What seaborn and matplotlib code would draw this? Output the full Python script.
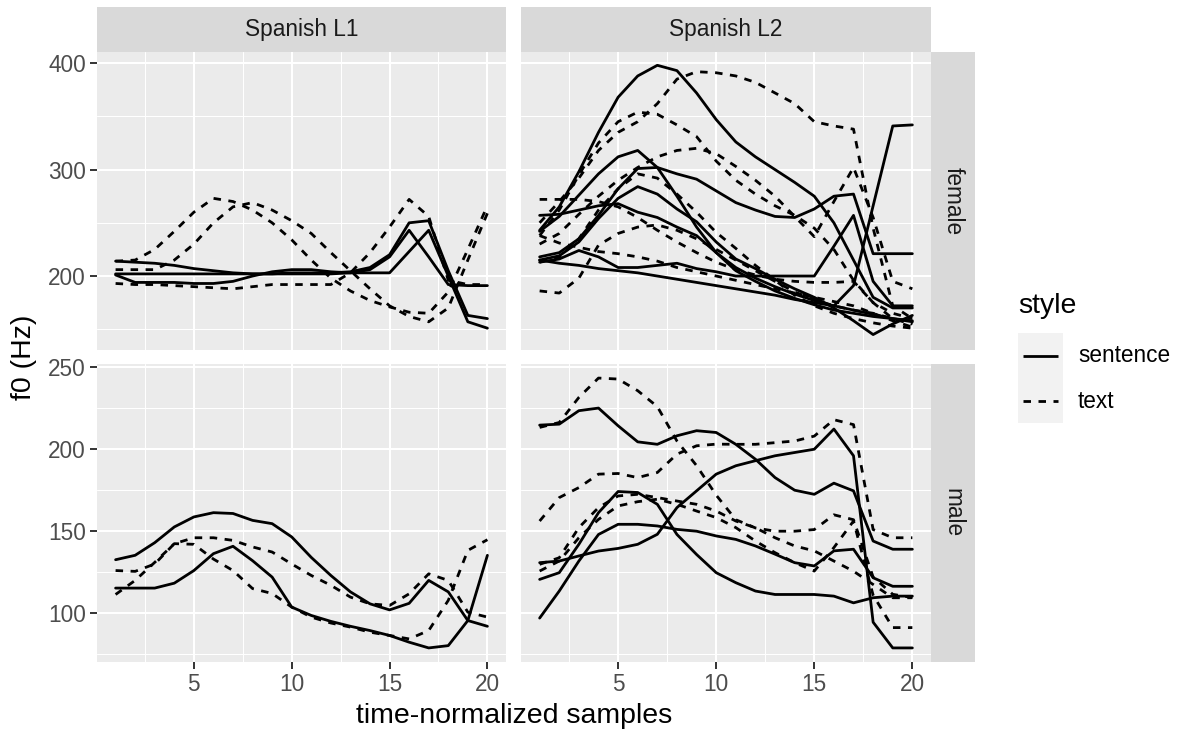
import matplotlib
matplotlib.use("Agg")
import matplotlib.pyplot as plt
import seaborn as sns
import pandas as pd

sns.set_theme(style="darkgrid")
plt.rcParams["font.family"] = ["Liberation Sans", "DejaVu Sans"]

# ---------------- data ----------------
samples = list(range(1, 21))
groups = ["Spanish L1", "Spanish L2"]
sexes = ["female", "male"]
styles = ["sentence", "text"]

l1_female_sentence = [
    [214, 213, 212, 210, 207, 205, 203, 202, 202, 203, 203, 203, 204, 208, 220, 250, 252, 205, 163, 160],
    [202, 202, 202, 202, 202, 202, 202, 202, 202, 202, 202, 202, 203, 203, 203, 223, 243, 200, 157, 151],
    [201, 194, 194, 194, 193, 193, 195, 200, 204, 206, 206, 204, 203, 206, 218, 243, 218, 192, 191, 191],
]
l1_female_text = [
    [214, 215, 225, 242, 260, 273, 270, 262, 250, 234, 215, 198, 186, 177, 171, 166, 165, 185, 225, 266],
    [206, 206, 206, 215, 230, 250, 265, 269, 262, 252, 240, 222, 205, 188, 172, 162, 157, 170, 215, 259],
    [193, 192, 192, 191, 190, 189, 188, 190, 192, 192, 192, 192, 203, 222, 246, 272, 256, 196, 192, 192],
]
l2_female_sentence = [
    [243, 265, 298, 335, 368, 388, 398, 393, 372, 347, 326, 312, 300, 288, 275, 250, 215, 180, 170, 170],
    [242, 256, 276, 296, 312, 318, 302, 275, 246, 222, 205, 195, 186, 179, 173, 168, 165, 162, 160, 158],
    [218, 222, 235, 257, 282, 301, 302, 296, 291, 280, 269, 262, 256, 255, 263, 275, 277, 221, 221, 221],
    [215, 219, 232, 254, 273, 284, 277, 263, 251, 232, 216, 207, 197, 188, 180, 170, 158, 145, 155, 163],
    [257, 258, 262, 266, 268, 260, 255, 246, 238, 222, 208, 198, 190, 183, 177, 172, 191, 266, 341, 342],
    [213, 216, 224, 218, 208, 208, 210, 212, 207, 204, 200, 200, 200, 200, 200, 228, 257, 195, 172, 172],
    [215, 212, 210, 207, 205, 203, 200, 197, 194, 191, 188, 185, 182, 178, 175, 172, 168, 164, 160, 157],
]
l2_female_text = [
    [250, 270, 292, 318, 335, 345, 362, 385, 392, 391, 388, 382, 372, 362, 345, 341, 338, 245, 172, 160],
    [238, 262, 295, 325, 345, 354, 352, 342, 331, 308, 290, 277, 266, 257, 245, 225, 196, 175, 165, 160],
    [230, 240, 258, 275, 290, 302, 312, 318, 320, 315, 303, 290, 275, 256, 237, 270, 302, 255, 195, 188],
    [213, 218, 235, 262, 282, 296, 292, 277, 260, 241, 226, 210, 196, 182, 172, 165, 160, 156, 153, 151],
    [186, 184, 198, 229, 240, 246, 248, 243, 235, 225, 215, 205, 195, 185, 178, 172, 168, 165, 160, 155],
    [272, 272, 272, 270, 265, 255, 243, 232, 222, 213, 206, 201, 197, 195, 194, 194, 195, 175, 160, 155],
    [238, 231, 227, 223, 221, 218, 214, 208, 204, 200, 196, 192, 188, 184, 180, 176, 172, 165, 158, 152],
]
l1_male_sentence = [
    [132.6, 135.3, 143, 152.6, 158.7, 161.3, 160.8, 156.6, 154.6, 146.5, 134, 123, 113, 105.7, 102, 106, 120, 113, 95.5, 92],
    [115.3, 115.3, 115.3, 118.3, 126, 136.3, 140.8, 132, 122, 103.7, 98.6, 95, 92, 89.4, 86.4, 82.3, 78.8, 80.2, 95.5, 135.3],
]
l1_male_text = [
    [126, 125.5, 130, 142.4, 146, 146, 144.4, 140.4, 137.3, 130, 123, 117, 109.8, 105.7, 104.7, 111.8, 124, 120, 100.6, 97.6],
    [111.4, 120, 131, 142.4, 142, 133, 126, 115, 112, 103.7, 97.6, 94, 91.5, 88.4, 86.4, 84.3, 89.4, 107.8, 138.3, 144.8],
]
l2_male_sentence = [
    [214.7, 215.3, 223.5, 225.1, 214.3, 204.5, 203, 208.2, 211.3, 210.2, 203, 193.9, 182.7, 175, 172.5, 179.3, 174.6, 144, 139, 139],
    [130.8, 131.8, 134.9, 137.9, 139.5, 142, 148.1, 164.4, 174.6, 184.8, 189.9, 193, 196, 198, 200, 212.3, 196, 94.5, 78.8, 78.8],
    [120.6, 124.7, 142, 161.3, 174.2, 173.6, 166.4, 148, 135.8, 124.7, 118.6, 113.5, 111.4, 111.4, 111.4, 110.4, 106.3, 109.4, 110.4, 110.4],
    [97, 113.5, 131.8, 148, 154.2, 154.2, 153.2, 151.1, 150, 147.1, 145, 141, 136, 130.8, 128.8, 138, 139, 121.6, 116.4, 116.4],
]
l2_male_text = [
    [213.3, 216.3, 231.6, 243.4, 242.8, 235.7, 226, 205, 190, 172, 157, 152, 150, 150, 151, 160, 157, 122, 111.5, 109.5],
    [156.2, 170.5, 176.6, 184.8, 185.2, 182.7, 185.8, 197, 202.1, 203.1, 203, 203, 204, 205, 208, 218, 215, 151, 146, 146],
    [129.8, 133.8, 152.2, 164.4, 171.5, 172.5, 170.5, 168.4, 166.4, 162.3, 156.2, 152.1, 146, 141, 138, 131.8, 125.6, 117.5, 109.4, 109.4],
    [125.7, 131.8, 146, 157.2, 165.4, 168, 169.5, 166.4, 162.3, 158.3, 152.2, 144, 136.9, 130.8, 125.7, 140, 156.2, 111, 91.2, 91.2],
]

panels = {
    ("Spanish L1", "female"): (l1_female_sentence, l1_female_text),
    ("Spanish L2", "female"): (l2_female_sentence, l2_female_text),
    ("Spanish L1", "male"): (l1_male_sentence, l1_male_text),
    ("Spanish L2", "male"): (l2_male_sentence, l2_male_text),
}

rows = []
for (grp, sex), (sent, txt) in panels.items():
    for sty, lines in zip(styles, (sent, txt)):
        for i, vals in enumerate(lines):
            for s, v in zip(samples, vals):
                rows.append(dict(group=grp, sex=sex, style=sty,
                                 id=f"{grp}-{sex}-{sty}-{i}", sample=s, f0=v))
df = pd.DataFrame(rows)

# ---------------- layout ----------------
W, H = 1178, 731
fig = plt.figure(figsize=(W / 100, H / 100), dpi=100)


def px_axes(x0, y0, x1, y1):
    return fig.add_axes([x0 / W, 1 - y1 / H, (x1 - x0) / W, (y1 - y0) / H])


col_x = {"Spanish L1": (97, 506), "Spanish L2": (521, 931)}
row_y = {"female": (52, 350), "male": (364.3, 661.7)}
ylims = {"female": (130.5, 410.5), "male": (70.4, 251.8)}
ymajor = {"female": [200, 300, 400], "male": [100, 150, 200, 250]}
yminor = {"female": [150, 250, 350], "male": [75, 125, 175, 225]}

PANEL_BG = "#EBEBEB"
STRIP_BG = "#D9D9D9"
TICK_TXT = "#4D4D4D"
FS_TICK = 16.3
FS_TITLE = 20.5
DASH = (2.7, 2.7)
LW = 2.0

for grp in groups:
    for sex in sexes:
        x0, x1 = col_x[grp]
        y0, y1 = row_y[sex]
        ax = px_axes(x0, y0, x1, y1)
        ax.set_facecolor(PANEL_BG)
        ax.set_axisbelow(True)
        sub = df[(df.group == grp) & (df.sex == sex)]
        sns.lineplot(data=sub, x="sample", y="f0", units="id", estimator=None,
                     style="style", style_order=styles,
                     dashes={"sentence": "", "text": DASH},
                     color="black", linewidth=LW, legend=False, ax=ax)
        ax.set_xlim(0.05, 20.95)
        ax.set_ylim(*ylims[sex])
        ax.set_xticks([5, 10, 15, 20])
        ax.set_xticks([2.5, 7.5, 12.5, 17.5], minor=True)
        ax.set_yticks(ymajor[sex])
        ax.set_yticks(yminor[sex], minor=True)
        ax.grid(which="major", color="white", linewidth=1.5)
        ax.grid(which="minor", color="white", linewidth=0.75)
        for sp in ax.spines.values():
            sp.set_visible(False)
        ax.set_xlabel("")
        ax.set_ylabel("")
        ax.tick_params(which="minor", length=0)
        ax.tick_params(which="major", bottom=True, left=True, length=5, width=1.4,
                       color="#333333", labelsize=FS_TICK, labelcolor=TICK_TXT, pad=3)
        if grp != "Spanish L1":
            ax.tick_params(axis="y", which="major", length=0, labelleft=False)
        if sex != "male":
            ax.tick_params(axis="x", which="major", length=0, labelbottom=False)

# column strips
for grp in groups:
    x0, x1 = col_x[grp]
    s = px_axes(x0, 7, x1, 52)
    s.set_facecolor(STRIP_BG)
    s.set_xticks([]); s.set_yticks([])
    s.grid(False)
    for sp in s.spines.values():
        sp.set_visible(False)
    s.text(0.5, 0.5, grp, ha="center", va="center", fontsize=FS_TICK,
           color="#1A1A1A", transform=s.transAxes)

# row strips
for sex in sexes:
    y0, y1 = row_y[sex]
    s = px_axes(931, y0, 975, y1)
    s.set_facecolor(STRIP_BG)
    s.set_xticks([]); s.set_yticks([])
    s.grid(False)
    for sp in s.spines.values():
        sp.set_visible(False)
    s.text(0.5, 0.5, sex, ha="center", va="center", rotation=-90,
           fontsize=FS_TICK, color="#1A1A1A", transform=s.transAxes)

# axis titles
fig.text(514 / W, 1 - 716 / H, "time-normalized samples", ha="center", va="center",
         fontsize=FS_TITLE, color="black")
fig.text(24 / W, 1 - 357 / H, "f0 (Hz)", ha="center", va="center", rotation=90,
         fontsize=FS_TITLE, color="black")

# legend
fig.text(1018 / W, 1 - 306 / H, "style", ha="left", va="center",
         fontsize=FS_TITLE, color="black")
lg = px_axes(1018, 333, 1063, 423)
lg.set_facecolor("#F2F2F2")
lg.set_xlim(0, 1); lg.set_ylim(0, 2)
lg.set_xticks([]); lg.set_yticks([])
lg.grid(False)
for sp in lg.spines.values():
    sp.set_visible(False)
lg.plot([0.11, 0.89], [1.5, 1.5], color="black", lw=LW, solid_capstyle="butt")
lg.plot([0.11, 0.89], [0.48, 0.48], color="black", lw=LW, dashes=DASH)
fig.text(1078 / W, 1 - 356 / H, "sentence", ha="left", va="center",
         fontsize=FS_TICK, color="black")
fig.text(1078 / W, 1 - 402 / H, "text", ha="left", va="center",
         fontsize=FS_TICK, color="black")

fig.savefig("out.png", dpi=100)
